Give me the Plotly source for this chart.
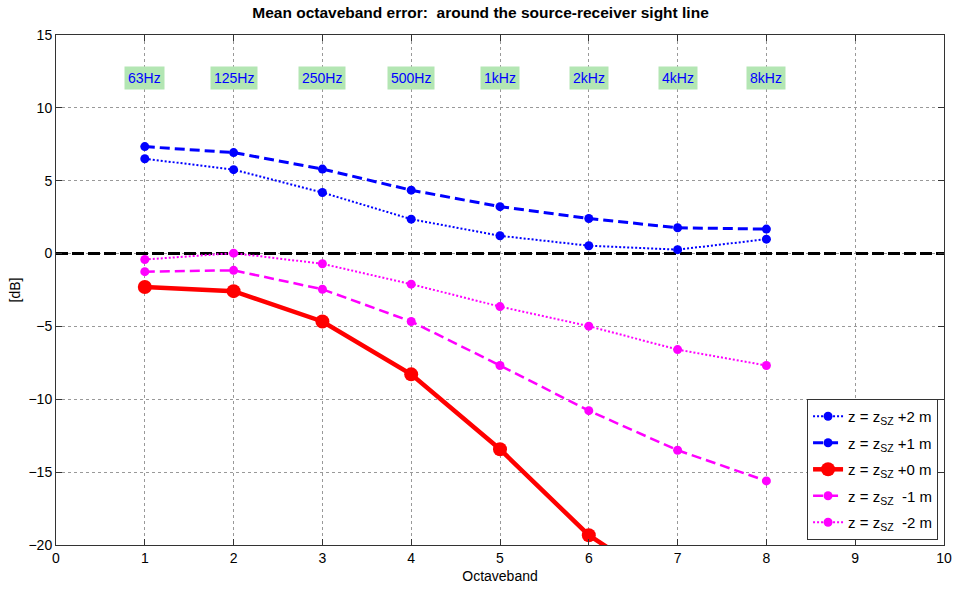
import plotly.graph_objects as go

octaveband = [1, 2, 3, 4, 5, 6, 7, 8]
band_labels = ["63Hz", "125Hz", "250Hz", "500Hz", "1kHz", "2kHz", "4kHz", "8kHz"]

z_plus2 = [6.51, 5.76, 4.19, 2.36, 1.22, 0.54, 0.27, 0.99]
z_plus1 = [7.34, 6.93, 5.80, 4.35, 3.22, 2.41, 1.77, 1.68]
z_plus0 = [-2.29, -2.58, -4.66, -8.29, -13.43, -19.33, -23.3, -27.0]
z_minus1 = [-1.24, -1.15, -2.45, -4.66, -7.68, -10.78, -13.5, -15.6]
z_minus2 = [-0.41, 0.03, -0.70, -2.10, -3.64, -4.98, -6.59, -7.68]

series = [
    ("z = z<sub>SZ</sub> +2 m", z_plus2, "#0000ff", "2px,2px", 2, 9),
    ("z = z<sub>SZ</sub> +1 m", z_plus1, "#0000ff", "10px,5px", 3, 9),
    ("z = z<sub>SZ</sub> +0 m", z_plus0, "#ff0000", "solid", 4.5, 14),
    ("z = z<sub>SZ</sub>  -1 m", z_minus1, "#ff00ff", "10px,5px", 2.5, 9),
    ("z = z<sub>SZ</sub>  -2 m", z_minus2, "#ff00ff", "2px,2px", 2, 9),
]

FONT = "Liberation Sans, Arial, Helvetica"

fig = go.Figure()

# zero reference line
fig.add_trace(go.Scatter(x=[0, 10], y=[0, 0], mode="lines",
                         line=dict(color="black", width=3, dash="12px,4px"),
                         showlegend=False, hoverinfo="skip"))

for i, (name, vals, color, dash, width, msize) in enumerate(series):
    fig.add_trace(go.Scatter(
        x=octaveband, y=vals, mode="lines+markers", name=name,
        legendgroup=f"g{i}",
        line=dict(color=color, dash=dash, width=width),
        marker=dict(color=color, size=msize, symbol="circle"),
        cliponaxis=True,
    ))

for xb, lab in zip(octaveband, band_labels):
    fig.add_annotation(x=xb, y=12.05, text=lab, showarrow=False,
                       bgcolor="#b3e6b3", font=dict(color="#0000ff", size=14, family=FONT),
                       borderpad=3)

axis_common = dict(
    showline=True, linecolor="#333333", linewidth=1, mirror="allticks",
    ticks="inside", ticklen=6, tickcolor="#333333",
    showgrid=True, gridcolor="#999999", griddash="dot", gridwidth=1,
    zeroline=False,
    tickfont=dict(size=14, color="black", family=FONT),
)

fig.update_xaxes(range=[0, 10], dtick=1, title=dict(text="Octaveband", standoff=6,
                 font=dict(size=14, color="black", family=FONT)),
                 **axis_common)
fig.update_yaxes(range=[-20, 15], dtick=5, title=dict(text="[dB]", standoff=4,
                 font=dict(size=14, color="black", family=FONT)),
                 **axis_common)

fig.update_layout(
    width=961, height=591,
    margin=dict(l=56, r=9, t=35, b=40),
    paper_bgcolor="white", plot_bgcolor="white",
    title=dict(text="<b>Mean octaveband error:  around the source-receiver sight line</b>",
               x=0.5, xanchor="center", y=0.988, yanchor="top",
               font=dict(size=15.5, color="black", family=FONT)),
    legend=dict(x=0.9933, y=0.0097, xanchor="right", yanchor="bottom",
                bgcolor="white", bordercolor="#333333", borderwidth=1,
                font=dict(size=15, color="black", family=FONT),
                itemwidth=30, tracegroupgap=4),
    showlegend=True,
)

fig.write_html("out.html")
